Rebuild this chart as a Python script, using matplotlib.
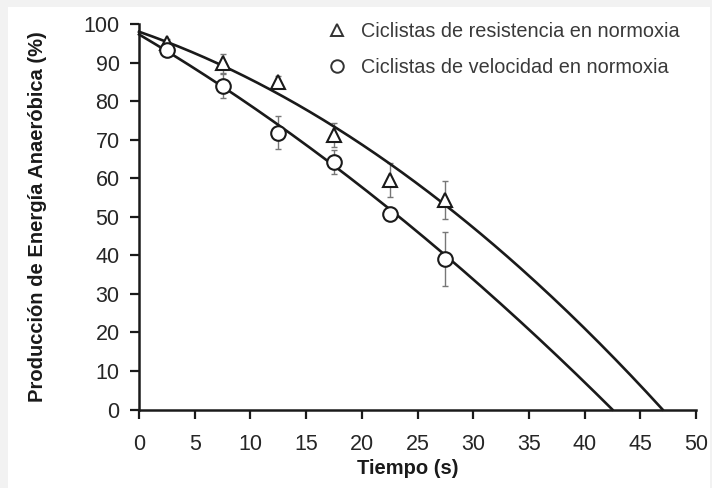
import numpy as np
import matplotlib
matplotlib.use("Agg")
import matplotlib.pyplot as plt
from matplotlib.lines import Line2D
from matplotlib.patches import Rectangle

# ---- data ----
tiempo = [2.5, 7.5, 12.5, 17.5, 22.5, 27.5]
resistencia = [95.0, 89.8, 85.0, 71.2, 59.5, 54.3]
resistencia_err = [1.0, 2.5, 1.5, 3.0, 4.5, 5.0]
velocidad = [93.2, 83.9, 71.8, 64.2, 50.8, 39.1]
velocidad_err = [1.0, 3.2, 4.3, 3.0, 1.0, 7.0]
# quadratic fit coefficients (t^2, t, 1)
fit_resistencia = [-0.02305, -1.002, 98.0]
fit_velocidad = [-0.01377, -1.705, 97.3]

label_res = "Ciclistas de resistencia en normoxia"
label_vel = "Ciclistas de velocidad en normoxia"
xlabel = "Tiempo (s)"
ylabel = "Producción de Energía Anaeróbica (%)"
xticks = [0, 5, 10, 15, 20, 25, 30, 35, 40, 45, 50]
yticks = [0, 10, 20, 30, 40, 50, 60, 70, 80, 90, 100]

plt.rcParams['font.family'] = ['Liberation Sans', 'DejaVu Sans']

W, H = 712, 488
fig = plt.figure(figsize=(W / 100, H / 100), dpi=100, facecolor='#f2f2f2')
bg = Rectangle((8 / W, 0), (710 - 8) / W, (H - 7) / H,
               transform=fig.transFigure, facecolor='white',
               edgecolor='none', zorder=-10)
fig.add_artist(bg)

ax = fig.add_axes([139 / W, 1 - 409.5 / H, 557 / W, 385.5 / H])
ax.set_facecolor('none')
ax.set_zorder(5)

ink = '#1a1a1a'

def curve(coefs):
    roots = np.roots(coefs)
    r = max(roots.real[roots.real > 0])
    t = np.linspace(0, r, 200)
    return t, np.polyval(coefs, t)

for coefs in (fit_resistencia, fit_velocidad):
    t, y = curve(coefs)
    ax.plot(t, y, color=ink, lw=1.9, zorder=2, clip_on=False)

ax.errorbar(tiempo, resistencia, yerr=resistencia_err, fmt='none',
            ecolor='#777777', elinewidth=1.0, capsize=2.5, capthick=1.0, zorder=1)
ax.errorbar(tiempo, velocidad, yerr=velocidad_err, fmt='none',
            ecolor='#777777', elinewidth=1.0, capsize=2.5, capthick=1.0, zorder=1)

ax.plot(tiempo, resistencia, linestyle='none', marker='^', ms=10,
        mfc='white', mec=ink, mew=1.5, zorder=3)
ax.plot(tiempo, velocidad, linestyle='none', marker='o', ms=10.5,
        mfc='white', mec=ink, mew=1.5, zorder=4)

ax.set_xlim(0, 50)
ax.set_ylim(0, 100)
ax.set_xticks(xticks)
ax.set_yticks(yticks)
for s in ('top', 'right'):
    ax.spines[s].set_visible(False)
for s in ('left', 'bottom'):
    ax.spines[s].set_linewidth(1.8)
    ax.spines[s].set_color(ink)
ax.tick_params(axis='both', direction='out', length=6.5, width=1.6, color=ink,
               labelsize=15.5, labelcolor='#262626')
ax.tick_params(axis='x', pad=11)
ax.tick_params(axis='y', pad=7.5)

ax.set_xlabel(xlabel, fontsize=14.5, fontweight='bold', color=ink)
ax.xaxis.set_label_coords((408 - 139) / 557, -(459 - 409.5) / 385.5)
ax.set_ylabel(ylabel, fontsize=14.5, fontweight='bold', color=ink)
ax.yaxis.set_label_coords((47 - 139) / 557, 0.5)

handles = [Line2D([], [], linestyle='none', marker='^', ms=8.5, mfc='white', mec='#333333', mew=1.4),
           Line2D([], [], linestyle='none', marker='o', ms=9, mfc='white', mec='#333333', mew=1.4)]
leg = ax.legend(handles, [label_res, label_vel], loc='upper left',
                bbox_to_anchor=(327 / W, 1 - 22 / H), bbox_transform=fig.transFigure,
                frameon=False, fontsize=14.3, handlelength=1.0, handletextpad=0.7,
                labelspacing=0.85, borderpad=0, borderaxespad=0)
for txt in leg.get_texts():
    txt.set_color('#3a3a3a')

fig.savefig('out.png', dpi=100, facecolor=fig.get_facecolor())
